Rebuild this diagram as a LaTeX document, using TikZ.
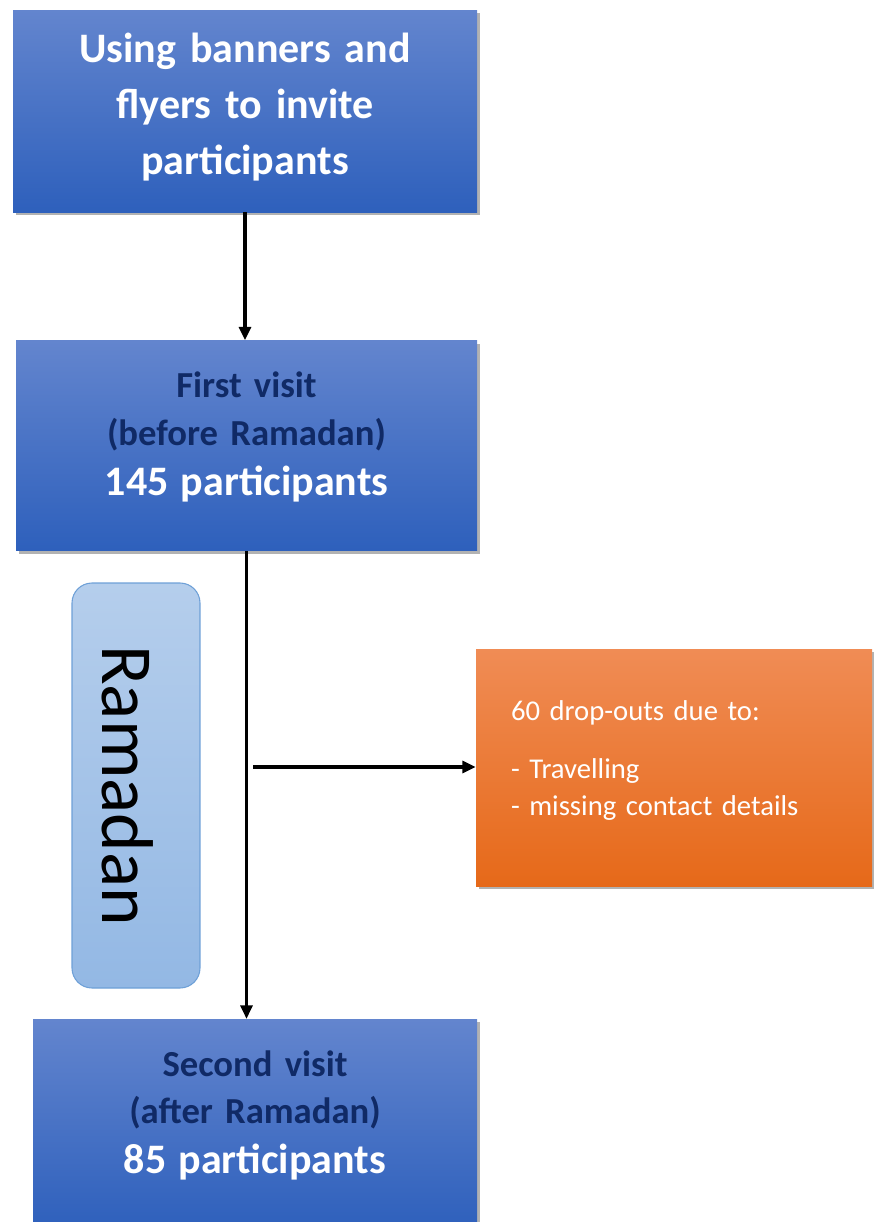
\documentclass[tikz,border=0pt]{standalone}
\usepackage{fontspec}
\setmainfont{Carlito}
\usetikzlibrary{arrows.meta, positioning, shadows}

\definecolor{stagetop}{RGB}{99,133,206}
\definecolor{stagebot}{RGB}{46,96,188}
\definecolor{navytext}{RGB}{16,42,102}
\definecolor{droptop}{RGB}{240,140,85}
\definecolor{dropmid}{RGB}{243,123,42}
\definecolor{dropbot}{RGB}{230,105,25}
\definecolor{ramtop}{RGB}{181,206,236}
\definecolor{rambot}{RGB}{147,184,228}
\definecolor{ramedge}{RGB}{110,160,215}

\begin{document}
\begin{tikzpicture}[
    x=0.75pt, y=-0.75pt,
    % Stili dei nodi
    stage/.style={rectangle, top color=stagetop, bottom color=stagebot, draw=none, inner sep=0pt, text width=330pt, align=center, font=\bfseries,
        drop shadow={shadow xshift=2.5pt, shadow yshift=-2.5pt, fill=black, opacity=0.3}},
    dropbox/.style={rectangle, top color=droptop, middle color=dropmid, bottom color=dropbot, draw=none, inner xsep=26.25pt, inner ysep=0pt,
        text width=244.5pt, align=left, text=white, font=\fontsize{21.5}{27.75}\selectfont,
        drop shadow={shadow xshift=2.5pt, shadow yshift=-2.5pt, fill=black, opacity=0.3}},
    period/.style={rectangle, rounded corners=15pt, top color=ramtop, bottom color=rambot, draw=ramedge, line width=0.8pt, font=\fontsize{55}{60}\selectfont},
    arrow/.style={-{Triangle[length=10pt, width=9pt]}, line width=2.3pt}
]
    \useasboundingbox (0,0) rectangle (874,1222);

    % ==================== INVITATION ====================
    \node [stage, minimum width=348pt, minimum height=151.5pt, text=white, text depth=95.5pt,
        font=\bfseries\fontsize{31.5}{42}\selectfont] (banners) at (245,111)
        {Using banners and\\flyers to invite\\participants};

    % ==================== VISITS ====================
    \node [stage, minimum width=345.75pt, minimum height=157.5pt, text=navytext, text depth=91pt,
        font=\bfseries\fontsize{27.5}{35.5}\selectfont, below=96pt of banners.south east, anchor=north east] (firstvisit)
        {First visit\\(before Ramadan)\\[2pt]{\fontsize{31.5}{36}\selectfont\color{white}145 participants}};

    \node [stage, minimum width=333pt, minimum height=157.5pt, text=navytext, text depth=91pt,
        font=\bfseries\fontsize{27.5}{35.5}\selectfont, below=351pt of firstvisit.south east, anchor=north east] (secondvisit)
        {Second visit\\(after Ramadan)\\[2pt]{\fontsize{31.5}{36}\selectfont\color{white}85 participants}};

    \draw [arrow] (banners.south) -- (banners.south |- firstvisit.north);
    \draw [arrow] (firstvisit.south) -- (firstvisit.south |- secondvisit.north);

    % ==================== RAMADAN / DROP-OUTS ====================
    \node [period, rotate=-90, minimum width=303.75pt, minimum height=96pt, text height=50pt, text depth=0pt] (ramadan) at (136,785.5) {Ramadan};

    \node [dropbox, minimum width=297pt, minimum height=177.75pt, text depth=85.5pt] (dropouts) at (674,767.5)
        {60 drop-outs due to:\\[16pt]- Travelling\\- missing contact details};

    \coordinate (split) at (253,767);
    \draw [arrow] (split) -- (split -| dropouts.west);

\end{tikzpicture}
\end{document}
